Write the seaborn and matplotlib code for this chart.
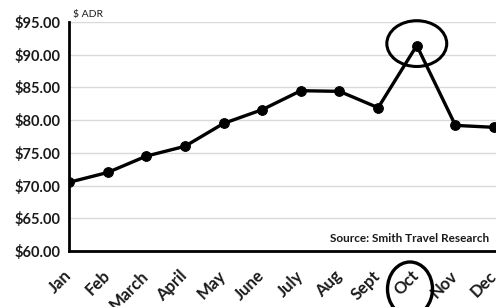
import matplotlib
matplotlib.use('Agg')
import matplotlib.pyplot as plt
from matplotlib.patches import Ellipse
import pandas as pd
import seaborn as sns

months = ['Jan', 'Feb', 'March', 'April', 'May', 'June', 'July',
          'Aug', 'Sept', 'Oct', 'Nov', 'Dec']
adr = [70.5, 72.0, 74.5, 76.0, 79.5, 81.6, 84.5, 84.4, 81.9, 91.4, 79.2, 78.9]
y_ticks = [60, 65, 70, 75, 80, 85, 90, 95]
y_labels = ['$%.2f' % v for v in y_ticks]
highlight = 'Oct'

sns.set_style('white')
plt.rcParams['font.family'] = ['Lato', 'DejaVu Sans']

df = pd.DataFrame({'month': months, 'adr': adr, 'pos': range(len(months))})

W, H = 496, 307
fig = plt.figure(figsize=(W / 100, H / 100), dpi=100)
ax = fig.add_axes([69 / W, 1 - 251 / H, 1 - 69 / W, (251 - 22) / H])

# gridlines behind the line
for v in y_ticks[1:]:
    ax.axhline(v, color='#d9d9d9', lw=1, zorder=0)

sns.lineplot(data=df, x='pos', y='adr', color='black', lw=2.4,
             marker='o', markersize=7, markeredgecolor='black', ax=ax)

ax.set_xlim(0, 11.05)
ax.set_ylim(60, 95)
ax.set_yticks(y_ticks)
ax.set_yticklabels(y_labels, fontsize=10.5, fontweight='bold',
                   color='#1a1a1a')
ax.set_xticks(df['pos'])
ax.set_xticklabels(months, rotation=45, ha='right', va='center',
                   rotation_mode='anchor', fontsize=12, fontweight='bold',
                   color='#1a1a1a')
ax.tick_params(axis='x', direction='inout', length=8, width=1.5, pad=12)
ax.tick_params(axis='y', length=0, pad=6)
ax.set_xlabel('')
ax.set_ylabel('')

for side in ['top', 'right']:
    ax.spines[side].set_visible(False)
for side in ['left', 'bottom']:
    ax.spines[side].set_linewidth(2)
    ax.spines[side].set_color('black')

# circle around the October peak
k = months.index(highlight)
ax.add_patch(Ellipse((k, adr[k] + 0.3), 1.55, 7.0, fill=False,
                     ec='black', lw=2.2, clip_on=False, zorder=5))
# circle around the October tick label (figure coordinates)
fig.add_artist(Ellipse((410 / W, 1 - 289 / H), 45 / W, 54 / H, fill=False,
                       ec='black', lw=2.4, transform=fig.transFigure,
                       zorder=5))

fig.text(73 / W, 1 - 14 / H, '$ ADR', fontsize=7.5, color='#1a1a1a',
         va='center')
ax.text(0.985, 0.03, 'Source: Smith Travel Research', transform=ax.transAxes,
        ha='right', va='bottom', fontsize=8.5, fontweight='bold',
        color='#1a1a1a')

fig.savefig('out.png', dpi=100)
